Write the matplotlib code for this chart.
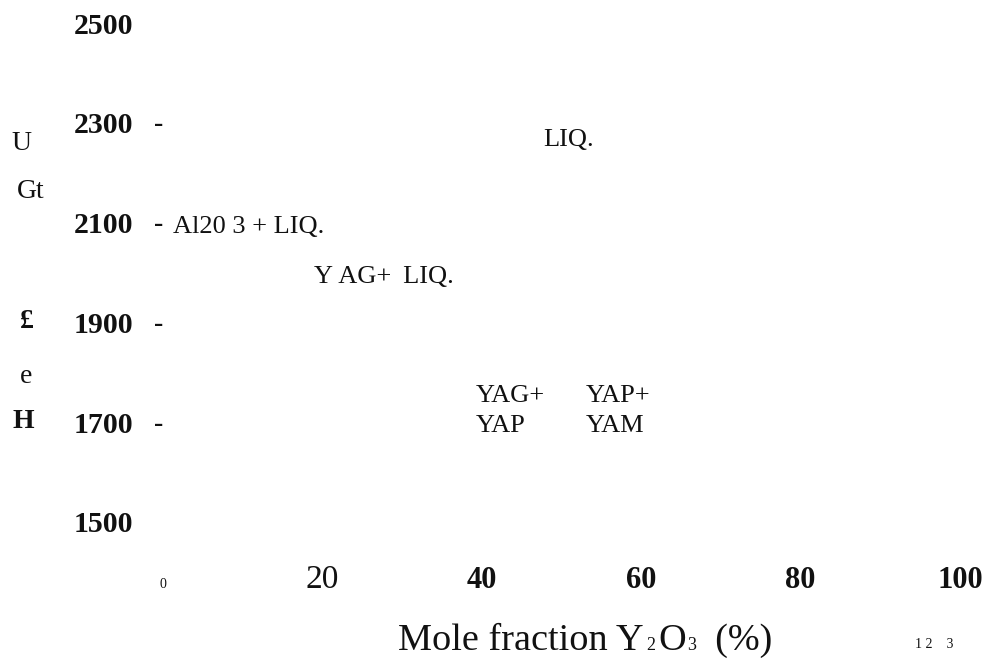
"""
Y2O3-Al2O3 phase diagram, text-only scan layout
"""

import matplotlib
matplotlib.use('Agg')
import matplotlib.pyplot as plt
from matplotlib.transforms import offset_copy

SERIF = 'Liberation Serif'
INK = '#111111'

plt.rcParams['font.family'] = [SERIF, 'DejaVu Serif']
plt.rcParams['text.color'] = INK

# Axis values
temp_ticks = [2500, 2300, 2100, 1900, 1700, 1500]
temp_dashed = [2300, 2100, 1900, 1700]
mole_ticks = [0, 20, 40, 60, 80, 100]

# Phase region labels: (text, mole %, temperature)
region_text = ['LIQ.', 'Al20 3 + LIQ.', 'Y\u2009AG+\u2009 LIQ.', 'YAG+', 'YAP', 'YAP+', 'YAM']
region_x = [47.7, 1.3, 18.9, 39.3, 39.3, 53.1, 53.1]
region_t = [2254, 2079, 1979, 1741, 1681, 1741, 1681]

# scanned (garbled) y-axis title letters, top to bottom
ylabel_chars = ['U', 'Gt', '£', 'e', 'H']

W, H = 988, 664
fig = plt.figure(figsize=(W / 100, H / 100), dpi=100)
fig.patch.set_facecolor('white')


def px(x, y):
    """pixel position -> figure fraction"""
    return x / W, 1 - y / H


# axes frame: 0 % at x=163px, 100 % at x=960px; 2500 at y=23px, 1500 at y=522px
ax = fig.add_axes([163 / W, 1 - 522 / H, (960 - 163) / W, (522 - 23) / H])
ax.set_xlim(0, 100)
ax.set_ylim(1500, 2500)
ax.axis('off')

# y tick labels (bold) and the dash marks
ylab_tr = offset_copy(ax.get_yaxis_transform(), fig=fig, x=-30, y=-3, units='dots')
dash_tr = offset_copy(ax.get_yaxis_transform(), fig=fig, x=0, y=-2, units='dots')
for t in temp_ticks:
    ax.text(0, t, str(t), transform=ylab_tr, ha='right', va='center',
            fontsize=21.5, fontweight='bold')
for t in temp_dashed:
    ax.text(0, t, '-', transform=dash_tr, ha='right', va='center',
            fontsize=20, fontweight='bold')

# x tick labels, each scanned in a different style
xtick_style = {
    0: dict(fontsize=10, fontweight='normal'),
    20: dict(fontsize=24, fontweight='normal'),
}
xlab_tr = offset_copy(ax.get_xaxis_transform(), fig=fig, x=0, y=-66, units='dots')
for m in mole_ticks:
    style = xtick_style.get(m, dict(fontsize=22, fontweight='bold'))
    ax.text(m, 0, str(m), transform=xlab_tr, ha='center', va='baseline', **style)

# region labels
for txt, x, t in zip(region_text, region_x, region_t):
    ax.text(x, t, txt, ha='left', va='baseline', fontsize=19)

# garbled y-axis title
ylabel_pos = [(21, 143), (31, 191), (27, 322), (26, 377), (23, 422)]
ylabel_style = ['normal', 'normal', 'bold', 'normal', 'bold']
for ch, (x, y), w in zip(ylabel_chars, ylabel_pos, ylabel_style):
    fig.text(*px(x, y), ch, ha='center', va='center', fontsize=20, fontweight=w)

# x axis title with subscripts, chained piece by piece
big = 27.5
small = 13
t0 = fig.text(*px(398, 650), 'Mole fraction Y', ha='left', va='baseline', fontsize=big)
pieces = [('2', small, 2, 3), ('O', big, 2, -3), ('3', small, 1, 3), ('  (%)', big, 0, -3)]
prev = t0
for s, fs, gap, dy in pieces:
    prev = ax.annotate(s, xy=(1, 0), xycoords=prev, xytext=(gap, dy),
                       textcoords='offset points', ha='left', va='bottom',
                       fontsize=fs, annotation_clip=False)

fig.text(*px(915, 648), '1 2    3', ha='left', va='baseline', fontsize=10)

fig.savefig('out.png', dpi=100, facecolor='white')
